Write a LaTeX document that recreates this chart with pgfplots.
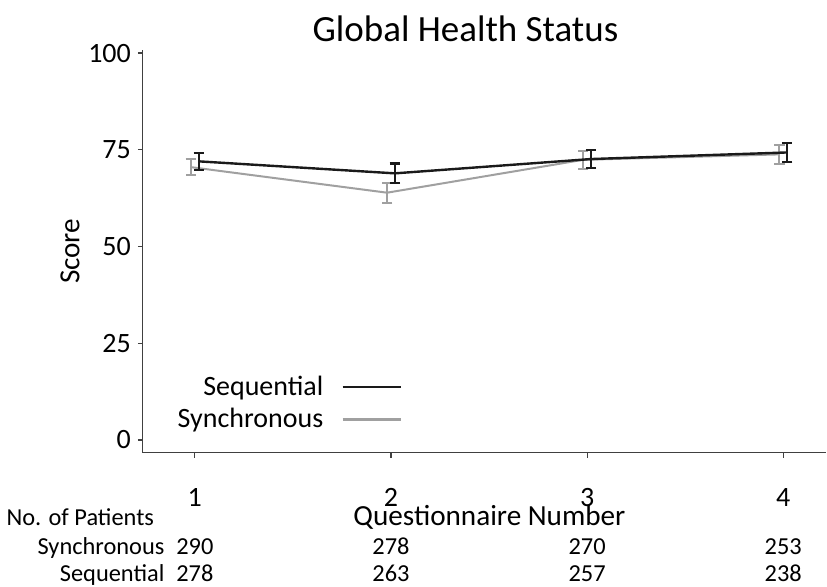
\documentclass[border=0pt]{standalone}
\usepackage{fontspec}
\setmainfont{Carlito}
\usepackage{pgfplots}
\pgfplotsset{compat=1.18}
\definecolor{seqc}{HTML}{1A1A1A}
\definecolor{sync}{HTML}{A0A0A0}
\definecolor{axc}{HTML}{404040}
\begin{document}
\begin{tikzpicture}
  \begin{axis}[
      scale only axis,
      width=342pt, height=201.5pt,
      xmin=0.735, xmax=4.22,
      ymin=-3.3, ymax=100.8,
      axis x line=bottom, axis y line=left,
      axis line style={-, axc, line width=0.6pt},
      xtick={1,2,3,4}, ytick={0,25,50,75,100},
      tick align=outside, major tick length=2.5pt,
      tick style={axc, line width=0.6pt},
      /pgf/number format/assume math mode=true,
      tick label style={font=\fontsize{14}{16}\selectfont},
      xticklabel style={yshift=-12pt},
      yticklabel style={xshift=0pt},
      title={Global Health Status},
      title style={font=\fontsize{18.5}{21}\selectfont, inner sep=0pt,
        at={(axis description cs:0.472,1)}, anchor=base, yshift=-2pt},
      xlabel={Questionnaire Number},
      xlabel style={font=\fontsize{14.6}{17}\selectfont, at={(axis description cs:0.507,0)}, anchor=base, yshift=-36.5pt},
      ylabel={Score},
      ylabel style={font=\fontsize{14.6}{17}\selectfont, at={(axis description cs:0,0.5)}, anchor=center, yshift=36.5pt},
      clip=false,
      legend plot pos=right,
      legend cell align=right,
      reverse legend,
      legend style={draw=none, fill=none, at={(axis description cs:0.212,0.123)}, anchor=center,
        font=\fontsize{14}{16}\selectfont, row sep=1pt},
      legend image code/.code={\draw[#1, line width=1.3pt, shorten <=7pt] (0pt,0pt) -- (36pt,0pt);},
      error bars/y dir=both, error bars/y explicit,
    ]
    % synchronous (grey), drawn first so black sits on top
    \addplot[sync, line width=1pt, mark=none,
      error bars/error bar style={sync, line width=1pt},
      error bars/error mark options={sync, rotate=90, mark size=2.6pt, line width=1pt}]
      coordinates {
        (0.98,70.5) +- (0,2.0)
        (1.98,63.9) +- (0,2.6)
        (2.98,72.4) +- (0,2.4)
        (3.98,73.8) +- (0,2.5)
      };
    \addlegendentry{Synchronous}
    % sequential (black)
    \addplot[seqc, line width=1.2pt, mark=none,
      error bars/error bar style={seqc, line width=1.2pt},
      error bars/error mark options={seqc, rotate=90, mark size=2.6pt, line width=1.2pt}]
      coordinates {
        (1.02,72.0) +- (0,2.2)
        (2.02,68.9) +- (0,2.5)
        (3.02,72.6) +- (0,2.3)
        (4.02,74.3) +- (0,2.5)
      };
    \addlegendentry{Sequential}
    % patient counts under the axis
    \begin{scope}[font=\fontsize{12.2}{14}\selectfont, every node/.style={inner sep=0pt}]
      \node[anchor=base west] at (axis description cs:-0.2,0) [yshift=-36.5pt] {No. of Patients};
      \node[anchor=base east] at (axis cs:0.847,-29.7) {Synchronous};
      \node[anchor=base east] at (axis cs:0.847,-36.7) {Sequential};
      \node[anchor=base] at (axis cs:1,-29.7) {290};
      \node[anchor=base] at (axis cs:2,-29.7) {278};
      \node[anchor=base] at (axis cs:3,-29.7) {270};
      \node[anchor=base] at (axis cs:4,-29.7) {253};
      \node[anchor=base] at (axis cs:1,-36.7) {278};
      \node[anchor=base] at (axis cs:2,-36.7) {263};
      \node[anchor=base] at (axis cs:3,-36.7) {257};
      \node[anchor=base] at (axis cs:4,-36.7) {238};
    \end{scope}
    \path (axis description cs:-0.209,-0.3325) rectangle (axis description cs:1,1.124);
  \end{axis}
\end{tikzpicture}
\end{document}
